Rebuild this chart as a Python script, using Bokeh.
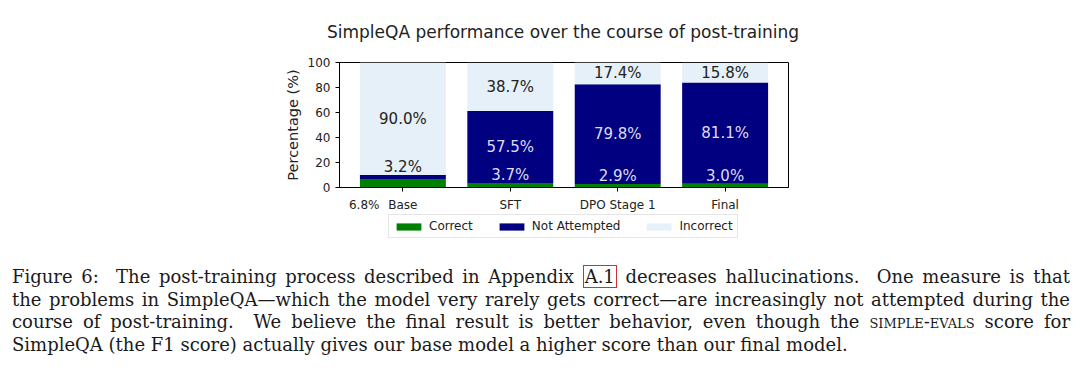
from bokeh.plotting import figure
from bokeh.models import (ColumnDataSource, Range1d, FixedTicker, Legend, LegendItem,
                          LabelSet, Div)
from bokeh.core.properties import value
from bokeh.layouts import column
from bokeh.embed import file_html
from bokeh.resources import INLINE

# ---- data ----
categories = ["Base", "SFT", "DPO Stage 1", "Final"]
correct = [6.8, 3.7, 2.9, 3.0]
not_attempted = [3.2, 57.5, 79.8, 81.1]
incorrect = [90.0, 38.7, 17.4, 15.8]
series_names = ["Correct", "Not Attempted", "Incorrect"]
y_ticks = [0, 20, 40, 60, 80, 100]
title_text = "SimpleQA performance over the course of post-training"
y_label = "Percentage (%)"

caption_lines = [
    'Figure 6:&nbsp; The post-training process described in Appendix {box} decreases hallucinations.&nbsp; One measure is that',
    'the problems in SimpleQA\u2014which the model very rarely gets correct\u2014are increasingly not attempted during the',
    'course of post-training.&nbsp; We believe the final result is better behavior, even though the {sc} score for',
    'SimpleQA (the F1 score) actually gives our base model a higher score than our final model.',
]

# ---- styles ----
colors = ["#008000", "#000080", "#e6f0f8"]
dark = "#222222"
light = "#dcdcf2"
FONT = "DejaVu Sans"
BASE_CORRECT_DX = -0.36   # the Base "correct" value is printed under the axis, left of the tick
stack_cols = ["correct", "not_attempted", "incorrect"]

xs = list(range(len(categories)))
src = ColumnDataSource(dict(x=xs, correct=correct, not_attempted=not_attempted,
                            incorrect=incorrect))

# ---- title strip ----
TITLE_H = 44
title_div = Div(
    text=(f'<div style="font-family:\'{FONT}\'; font-size:17px; line-height:22px; color:{dark}; '
          f'width:1000px; margin-left:63px; padding-top:21px; text-align:center; '
          f'white-space:nowrap;">{title_text}</div>'),
    width=1064, height=TITLE_H, margin=0)

# ---- main chart ----
FIG_H = 170
p = figure(width=1064, height=FIG_H, x_range=Range1d(-0.59, 3.59), y_range=Range1d(0, 100),
           output_backend="svg", toolbar_location=None,
           min_border_left=339, min_border_right=276, min_border_top=62 - TITLE_H,
           min_border_bottom=FIG_H - (189 - TITLE_H))
p.xgrid.visible = False
p.ygrid.visible = False
p.outline_line_color = "black"
p.outline_line_alpha = 1.0
p.background_fill_color = "white"
p.border_fill_color = "white"

rs = p.vbar_stack(stack_cols, x="x", width=0.8, fill_color=colors, line_color=None, source=src)

# x axis: category ticks drawn as (minor) tick marks; labels include the Base "correct" value
base_dx = xs[0] + BASE_CORRECT_DX
p.xaxis.ticker = FixedTicker(ticks=[base_dx] + xs, minor_ticks=xs)
overrides = {i: c for i, c in zip(xs, categories)}
overrides[base_dx] = f"{correct[0]:.1f}%"
p.xaxis.major_label_overrides = overrides
p.xaxis.major_tick_line_color = None
p.xaxis.minor_tick_line_color = "black"
p.xaxis.minor_tick_in = 0
p.xaxis.minor_tick_out = 4
p.xaxis.major_label_standoff = 6

p.yaxis.ticker = FixedTicker(ticks=y_ticks)
p.yaxis.minor_tick_line_color = None
p.yaxis.major_tick_line_color = "black"
p.yaxis.major_label_standoff = 5

p.axis.major_tick_in = 0
p.axis.major_tick_out = 4
p.axis.axis_line_color = "black"
p.axis.major_label_text_font = FONT
p.axis.major_label_text_font_size = "12px"
p.axis.major_label_text_color = dark
p.yaxis.axis_label = y_label
p.yaxis.axis_label_text_font = FONT
p.yaxis.axis_label_text_font_size = "14.5px"
p.yaxis.axis_label_text_font_style = "normal"
p.yaxis.axis_label_text_color = dark
p.yaxis.axis_label_standoff = 4

# bar value labels
lx, ly, lt, lc = [], [], [], []
for i in xs:
    c, n, inc = correct[i], not_attempted[i], incorrect[i]
    if i > 0:
        y0 = c / 2 if c >= 5 else c + 6
        lx.append(i); ly.append(y0); lt.append(f"{c:.1f}%")
        lc.append(light if c <= y0 <= c + n else dark)
    y1 = c + n / 2 if n >= 5 else c + n + 6.5
    lx.append(i); ly.append(y1); lt.append(f"{n:.1f}%")
    lc.append(light if c <= y1 <= c + n else dark)
    y2 = c + n + inc / 2
    lx.append(i); ly.append(y2); lt.append(f"{inc:.1f}%")
    lc.append(dark)

lsrc = ColumnDataSource(dict(x=lx, y=ly, text=lt, color=lc))
p.add_layout(LabelSet(x="x", y="y", text="text", source=lsrc, text_color="color",
                      text_align="center", text_baseline="middle",
                      text_font=value(FONT), text_font_size=value("15px")))

# ---- legend strip (its own small figure so nothing clips it) ----
LEG_H = 28
pl = figure(width=1064, height=LEG_H, x_range=Range1d(100, 101), y_range=Range1d(-200, -100),
            output_backend="svg", toolbar_location=None,
            min_border_left=339, min_border_right=276, min_border_top=0, min_border_bottom=0)
pl.axis.visible = False
pl.xgrid.visible = False
pl.ygrid.visible = False
pl.outline_line_color = None
pl.background_fill_color = "white"
pl.border_fill_color = "white"
# same stacked bars, kept hidden here; they only feed the legend swatches
lrs = pl.vbar_stack(stack_cols, x="x", width=0.8, fill_color=colors, line_color=None, source=src)
for r in lrs:
    r.visible = False
legend = Legend(items=[LegendItem(label=n, renderers=[r]) for n, r in zip(series_names, lrs)],
                orientation="horizontal", location=(49, 4), click_policy="none")
legend.label_text_font = FONT
legend.label_text_font_size = "12px"
legend.label_text_color = dark
legend.glyph_width = 31
legend.glyph_height = 9
legend.label_height = 12
legend.label_standoff = 5
legend.spacing = 23
legend.padding = 4
legend.margin = 0
legend.inactive_fill_alpha = 0.0
legend.border_line_color = "#cccccc"
legend.border_line_width = 1
legend.background_fill_color = "white"
legend.background_fill_alpha = 1.0
pl.add_layout(legend, "center")

# ---- caption ----
box = '<span style="border:1.5px solid #d03030; padding:0 1px;">A.1</span>'
sc = '<span style="font-variant:small-caps;">simple-evals</span>'
rows = []
for k, line in enumerate(caption_lines):
    txt = line.format(box=box, sc=sc)
    if k < len(caption_lines) - 1:
        rows.append(f'<div style="text-align:justify; text-align-last:justify; white-space:nowrap;">{txt}</div>')
    else:
        rows.append(f'<div style="text-align:left; white-space:nowrap;">{txt}</div>')
html = ('<div style="font-family:\'DejaVu Serif\'; font-size:18px; line-height:22.5px; '
        'color:#1a1a1a; width:1058px; margin-left:12px; padding-top:24px;">' + "".join(rows) + '</div>')
div = Div(text=html, width=1064, height=124, margin=0)

layout = column(title_div, p, pl, div)
open("out.html", "w").write(file_html(layout, INLINE))
